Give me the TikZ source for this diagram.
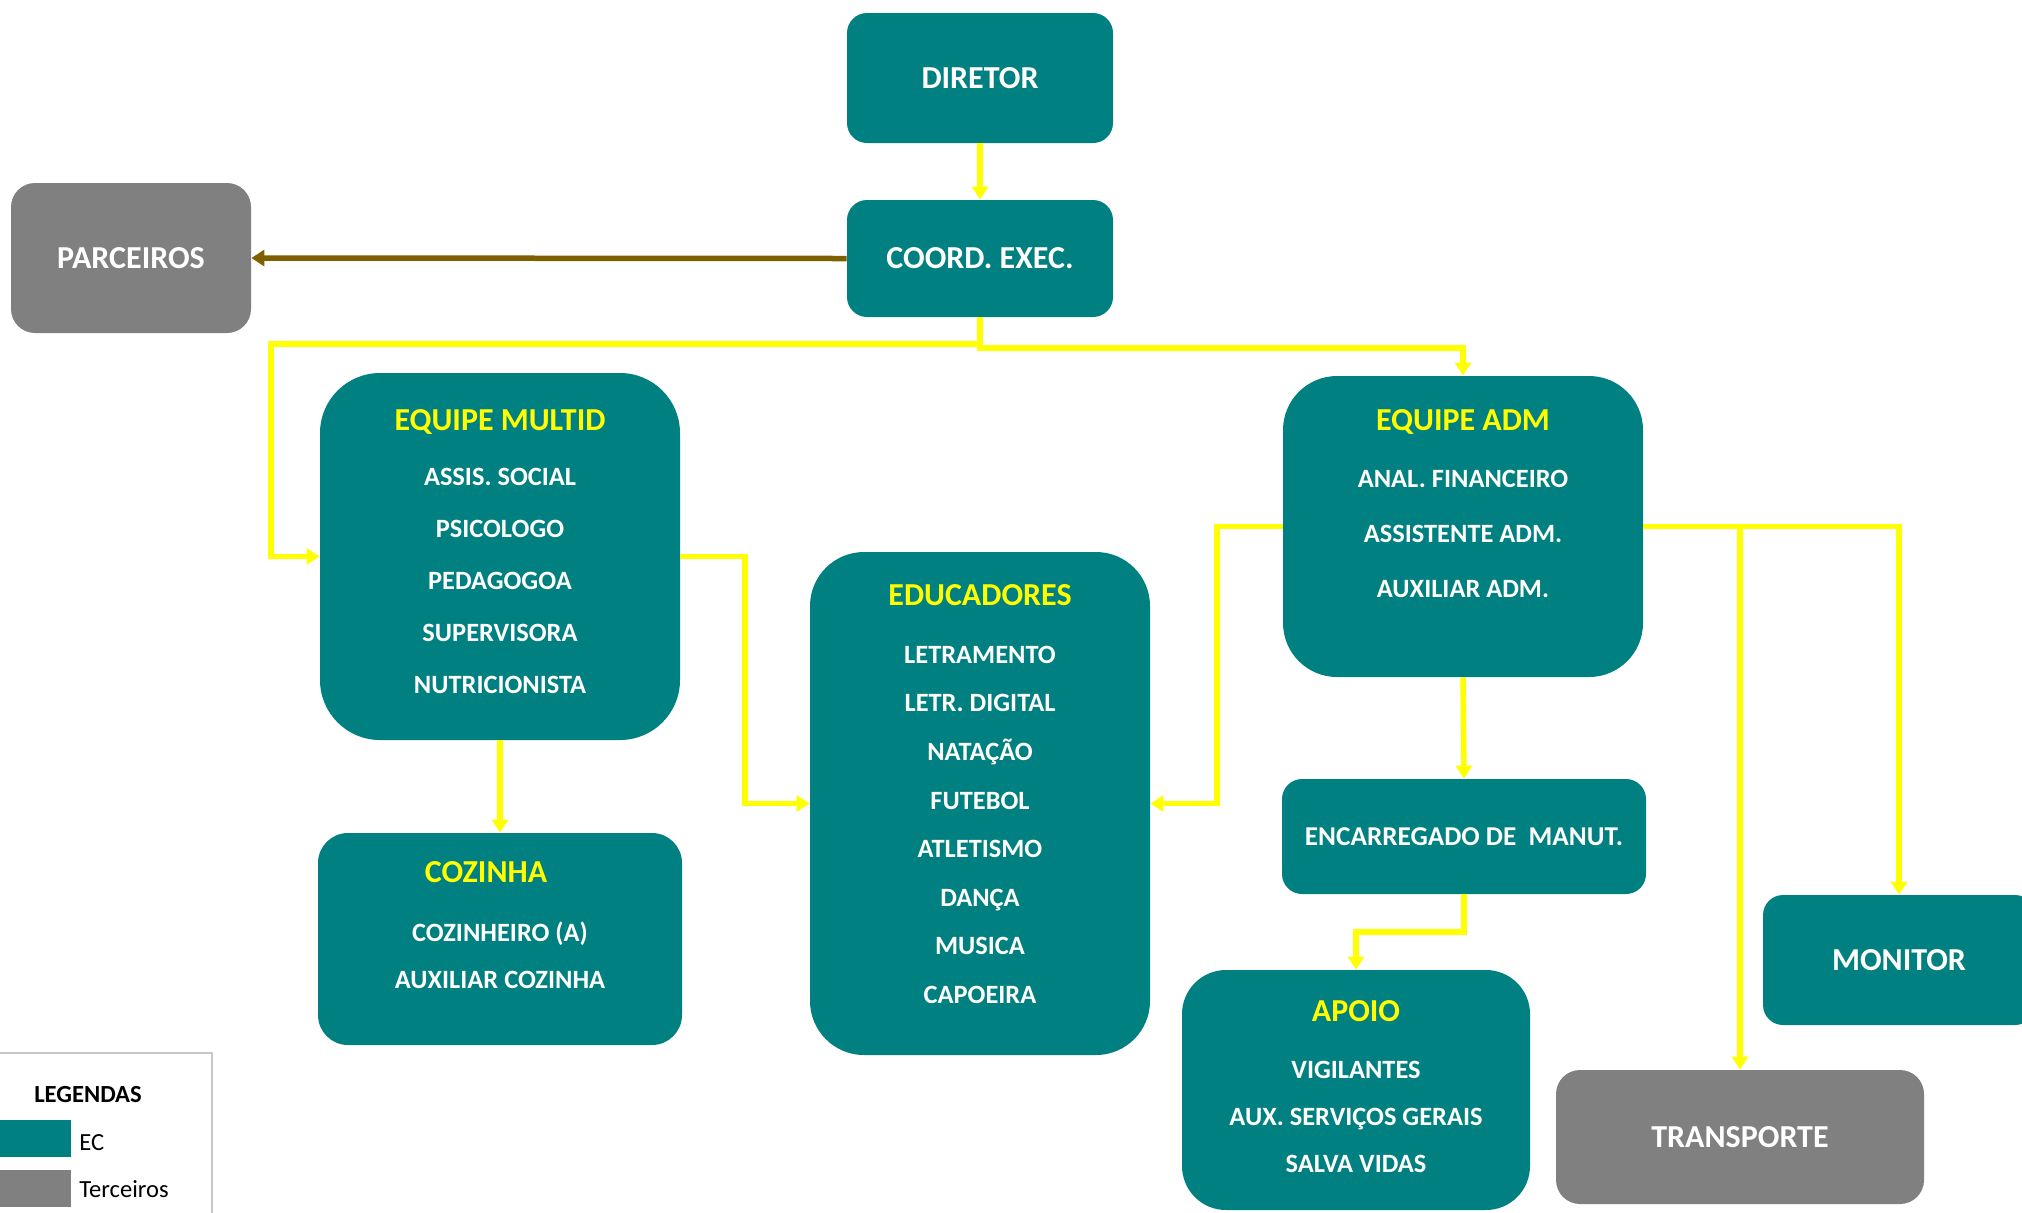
\documentclass[tikz,border=0pt]{standalone}
\usepackage{fontspec}
\setmainfont{Carlito}
\usetikzlibrary{arrows.meta}
\definecolor{ecteal}{RGB}{0,128,128}
\definecolor{ecgray}{RGB}{128,128,128}
\definecolor{ecyellow}{RGB}{255,255,0}
\definecolor{ecbrown}{RGB}{127,96,0}
\definecolor{legline}{RGB}{200,200,200}
\begin{document}
\begin{tikzpicture}[x=0.5pt,y=-0.5pt,
  box/.style={fill=ecteal, inner sep=0, text=white, font=\bfseries\fontsize{16}{16}\selectfont, text height=10.1pt, text depth=0pt},
  other/.style={box, fill=ecgray},
  head/.style={text=ecyellow, inner sep=0, font=\bfseries\fontsize{16}{16}\selectfont, text height=10.1pt, text depth=0pt},
  item/.style={text=white, inner sep=0, font=\bfseries\fontsize{13.2}{13.2}\selectfont, text height=8.35pt, text depth=0pt},
  link/.style={draw=ecyellow, line width=2.75pt, -{Triangle[width=8pt,length=6.5pt]}},
  plink/.style={link, draw=ecbrown},
  legkey/.style={inner sep=0, minimum width=35.5pt, minimum height=18.5pt},
  legtext/.style={inner sep=0, anchor=west, font=\fontsize{12.3}{12.3}\selectfont, text height=7.8pt, text depth=0pt}
]
\useasboundingbox (0,0) rectangle (2022,1212);

%Top
\node[box, minimum width=133pt, minimum height=65pt, rounded corners=10pt] (diretor) at (980,78) {DIRETOR};
\node[box, minimum width=133pt, minimum height=58.5pt, rounded corners=10pt] (coord) at (980,258.5) {COORD. EXEC.};
\node[other, minimum width=120pt, minimum height=75pt, rounded corners=12pt] (parceiros) at (131,258) {PARCEIROS};

%Equipe multid
\node[box, minimum width=180pt, minimum height=183.5pt, rounded corners=30pt] (multid) at (500,556.5) {};
\node[head] (multidhead) at (500,420) {EQUIPE MULTID};
\foreach \t [count=\i] in {ASSIS. SOCIAL, PSICOLOGO, PEDAGOGOA, SUPERVISORA, NUTRICIONISTA}
  \node[item] (multid-\i) at (500,{477+52*(\i-1)}) {\t};

%Cozinha
\node[box, minimum width=182pt, minimum height=106pt, rounded corners=15pt] (cozinha) at (500,939) {};
\node[head] (cozinhahead) at (486,872) {COZINHA};
\foreach \t [count=\i] in {COZINHEIRO (A), AUXILIAR COZINHA}
  \node[item] (cozinha-\i) at (500,{933+47*(\i-1)}) {\t};

%Educadores
\node[box, minimum width=170pt, minimum height=251.5pt, rounded corners=27pt] (educ) at (980,803.5) {};
\node[head] (educhead) at (980,595) {EDUCADORES};
\foreach \t [count=\i] in {LETRAMENTO, LETR. DIGITAL, NATAÇÃO, FUTEBOL, ATLETISMO, DANÇA, MUSICA, CAPOEIRA}
  \node[item] (educ-\i) at (980,{655+48.6*(\i-1)}) {\t};

%Equipe adm
\node[box, minimum width=180pt, minimum height=150.5pt, rounded corners=27pt] (adm) at (1463,526.5) {};
\node[head] (admhead) at (1463,420) {EQUIPE ADM};
\foreach \t [count=\i] in {ANAL. FINANCEIRO, ASSISTENTE ADM., AUXILIAR ADM.}
  \node[item] (adm-\i) at (1463,{479+55*(\i-1)}) {\t};

\node[box, minimum width=182pt, minimum height=57.5pt, rounded corners=10pt, font=\bfseries\fontsize{13.6}{13.6}\selectfont, text height=8.6pt] (enc) at (1464,836.5) {ENCARREGADO DE\ \ MANUT.};

%Apoio
\node[box, minimum width=174pt, minimum height=120pt, rounded corners=22pt] (apoio) at (1356,1090) {};
\node[head] (apoiohead) at (1356,1011) {APOIO};
\foreach \t [count=\i] in {VIGILANTES, AUX. SERVIÇOS GERAIS, SALVA VIDAS}
  \node[item] (apoio-\i) at (1356,{1070+47*(\i-1)}) {\t};

\node[box, minimum width=136pt, minimum height=65pt, rounded corners=10pt] (monitor) at (1899,960) {MONITOR};
\node[other, minimum width=184pt, minimum height=67pt, rounded corners=12pt] (transp) at (1740,1137) {TRANSPORTE};

%Connectors
\coordinate (busL) at (271,344);
\coordinate (busR) at (1463,348);
\coordinate (joinL) at (745,556.5);
\coordinate (joinR) at (1217,526.5);
\coordinate (bendA) at (1356,932);
\coordinate (busT) at (transp.north |- adm.east);
\draw[link] (diretor.south) -- (coord.north);
\draw[plink] (coord.west) -- (parceiros.east);
\draw[link] (coord.south) |- (busL) |- (multid.west);
\draw[link] (coord.south) |- (busR) -- (adm.north);
\draw[link] (multid.east) -- (joinL) |- (educ.west);
\draw[link] (adm.west) -- (joinR) |- (educ.east);
\draw[link] (multid.south) -- (cozinha.north);
\draw[link] (adm.south) -- (enc.north);
\draw[link] (enc.south) |- (bendA) -- (apoio.north);
\draw[link] (adm.east) -| (monitor.north);
\draw[link] (busT) -- (transp.north);

%Legenda
\draw[legline, line width=0.8pt] (-5,1053) -- (212,1053) -- (212,1220);
\node[inner sep=0, font=\bfseries\fontsize{12.3}{12.3}\selectfont, text height=7.8pt, text depth=0pt] (leghead) at (88,1095) {LEGENDAS};
\node[legkey, fill=ecteal] (keyec) at (35.5,1138.5) {};
\node[legkey, fill=ecgray] (keyter) at (35.5,1188) {};
\node[legtext] (legec) at (79,1143) {EC};
\node[legtext] (legter) at (79,1190) {Terceiros};
\end{tikzpicture}
\end{document}
